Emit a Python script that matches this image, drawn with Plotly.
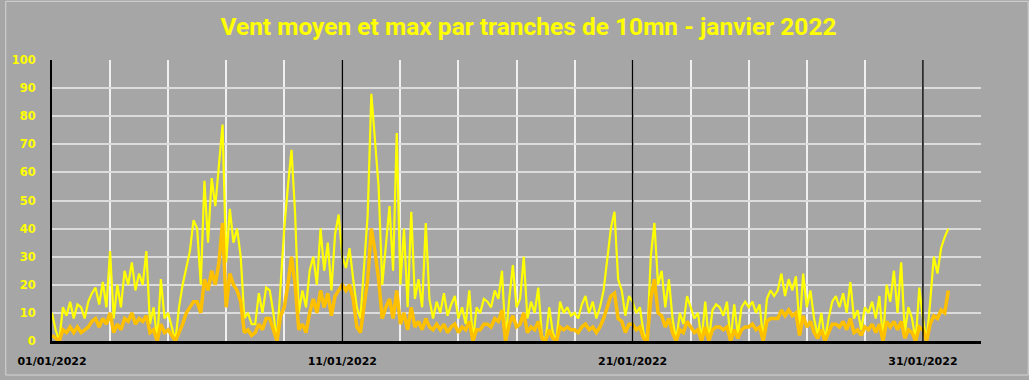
import pandas as pd
import plotly.graph_objects as go

titre = "Vent moyen et max par tranches de 10mn - janvier 2022"

# one value every 3 hours, one row per day (01/01 .. 31/01)
vent_max = [
    10, 4, 0, 12, 9, 14, 8, 13,
    12, 8, 14, 17, 19, 13, 21, 12,
    32, 8, 20, 12, 25, 20, 28, 18,
    24, 20, 32, 6, 12, 0, 22, 8,
    10, 5, 0, 12, 20, 26, 32, 43,
    40, 20, 57, 35, 58, 48, 62, 77,
    28, 47, 35, 40, 30, 8, 10, 6,
    6, 17, 10, 19, 18, 10, 0, 22,
    40, 55, 68, 45, 10, 18, 12, 25,
    30, 20, 40, 25, 35, 18, 38, 45,
    30, 26, 33, 22, 12, 8, 28, 45,
    88, 70, 55, 20, 35, 48, 25, 74,
    20, 40, 12, 46, 15, 22, 12, 42,
    15, 8, 14, 10, 17, 9, 13, 16,
    8, 12, 6, 18, 0, 12, 10, 15,
    14, 12, 18, 15, 25, 0, 15, 27,
    12, 15, 30, 8, 14, 10, 19, 2,
    0, 12, 3, 0, 14, 10, 12, 9,
    10, 8, 13, 16, 10, 14, 8, 12,
    18, 30, 40, 46, 22, 18, 9, 16,
    14, 10, 12, 3, 0, 30, 42, 20,
    25, 12, 22, 8, 0, 10, 6, 16,
    12, 8, 10, 0, 14, 0, 11, 13,
    12, 9, 14, 0, 13, 2, 12, 14,
    12, 14, 10, 13, 0, 15, 18, 16,
    18, 24, 16, 22, 18, 23, 5, 24,
    12, 18, 8, 2, 10, 0, 8, 14,
    16, 12, 17, 10, 21, 8, 11, 4,
    12, 10, 14, 8, 16, 0, 20, 14,
    25, 10, 28, 3, 12, 8, 0, 19,
    8, 0, 14, 30, 24, 33, 37, 40,
]

vent_moyen = [
    2, 1, 0, 4, 3, 5, 3, 5,
    3, 4, 5, 7, 8, 5, 8, 6,
    10, 3, 6, 4, 8, 7, 10, 6,
    8, 7, 9, 3, 4, 0, 6, 3,
    4, 2, 0, 3, 6, 10, 12, 14,
    14, 10, 22, 18, 25, 20, 28, 42,
    12, 24, 20, 18, 14, 3, 4, 2,
    3, 6, 4, 8, 8, 4, 0, 9,
    12, 20, 30, 20, 4, 6, 3, 10,
    15, 10, 18, 12, 17, 9, 16, 18,
    20, 18, 20, 15, 5, 3, 12, 22,
    40, 32, 22, 8, 12, 15, 8, 18,
    6, 10, 4, 12, 5, 7, 4, 8,
    5, 4, 6, 4, 6, 3, 5, 6,
    3, 5, 4, 7, 0, 4, 4, 6,
    6, 5, 8, 7, 11, 0, 6, 9,
    5, 6, 10, 3, 5, 4, 7, 1,
    0, 4, 1, 0, 5, 4, 5, 4,
    4, 3, 5, 6, 4, 5, 3, 5,
    8, 12, 16, 17, 8, 7, 3, 6,
    6, 4, 5, 1, 0, 15, 22, 10,
    9, 5, 8, 3, 0, 4, 3, 7,
    5, 3, 4, 0, 5, 0, 4, 5,
    5, 4, 5, 0, 4, 1, 4, 5,
    5, 6, 4, 5, 0, 7, 8, 8,
    8, 11, 9, 11, 9, 10, 2, 9,
    5, 7, 3, 1, 4, 0, 3, 6,
    6, 5, 7, 4, 8, 3, 4, 2,
    5, 4, 6, 3, 6, 0, 7, 5,
    7, 4, 7, 1, 4, 3, 0, 5,
    4, 0, 6, 9, 8, 11, 10, 18,
]

dates_etiquettes = ["2022-01-01", "2022-01-11", "2022-01-21", "2022-01-31"]
etiquettes = ["01/01/2022", "11/01/2022", "21/01/2022", "31/01/2022"]

temps = pd.date_range("2022-01-01", periods=len(vent_max), freq="3h")

fig = go.Figure()
fig.add_trace(go.Scatter(x=temps, y=vent_max, mode="lines",
                         line=dict(color="#FFFF00", width=2.2), name="max",
                         hoverinfo="skip"))
fig.add_trace(go.Scatter(x=temps, y=vent_moyen, mode="lines",
                         line=dict(color="#FFC000", width=3.5), name="moyen",
                         hoverinfo="skip"))

for d in dates_etiquettes[1:]:
    fig.add_shape(type="line", xref="x", yref="paper", x0=d, x1=d, y0=0, y1=1,
                  line=dict(color="black", width=1.5), layer="above")

W, H = 1029, 380
ML, MR, MT, MB = 47, 48, 60, 35
pw, ph = W - ML - MR, H - MT - MB
# light frame around the whole chart
fig.add_shape(type="rect", xref="paper", yref="paper",
              x0=-(ML - 0.5) / pw, x1=1 + (MR - 0.5) / pw,
              y0=-(MB - 0.5) / ph, y1=1 + (MT - 0.5) / ph,
              line=dict(color="#D4D4D4", width=1), layer="below")

fig.update_layout(
    width=W, height=H,
    margin=dict(l=ML, r=MR, t=MT, b=MB),
    paper_bgcolor="#A6A6A6", plot_bgcolor="#A6A6A6",
    showlegend=False,
    title=dict(text=titre, x=0.5136, xanchor="center", xref="container",
               y=0.93, yanchor="middle", yref="container",
               font=dict(family="Liberation Sans Narrow, Roboto, sans-serif", size=24.5,
                         color="#FFFF00", weight="bold")),
)
fig.update_xaxes(
    type="date", range=["2022-01-01", "2022-02-02"],
    tickmode="array", tickvals=dates_etiquettes, ticktext=etiquettes,
    showgrid=False,
    minor=dict(dtick=2 * 86400000, tick0="2022-01-01", showgrid=True,
               gridcolor="#F0F0F0", gridwidth=2),
    showline=True, linecolor="black", linewidth=3,
    tickfont=dict(family="DejaVu Sans", size=11, color="black", weight="bold"),
    ticklabelstandoff=8, zeroline=False, ticks="",
)
fig.update_yaxes(
    range=[0, 100], dtick=10, showgrid=True, gridcolor="#DCDCDC", gridwidth=1.5,
    showline=True, linecolor="black", linewidth=2,
    tickfont=dict(family="DejaVu Sans", size=11.5, color="#FFFF00", weight="bold"),
    ticklabelstandoff=12, zeroline=False, ticks="",
)

fig.write_html(
    "out.html",
    config={"displayModeBar": False},
    post_script="document.body.style.margin='0';document.body.style.background='#A6A6A6';",
)
